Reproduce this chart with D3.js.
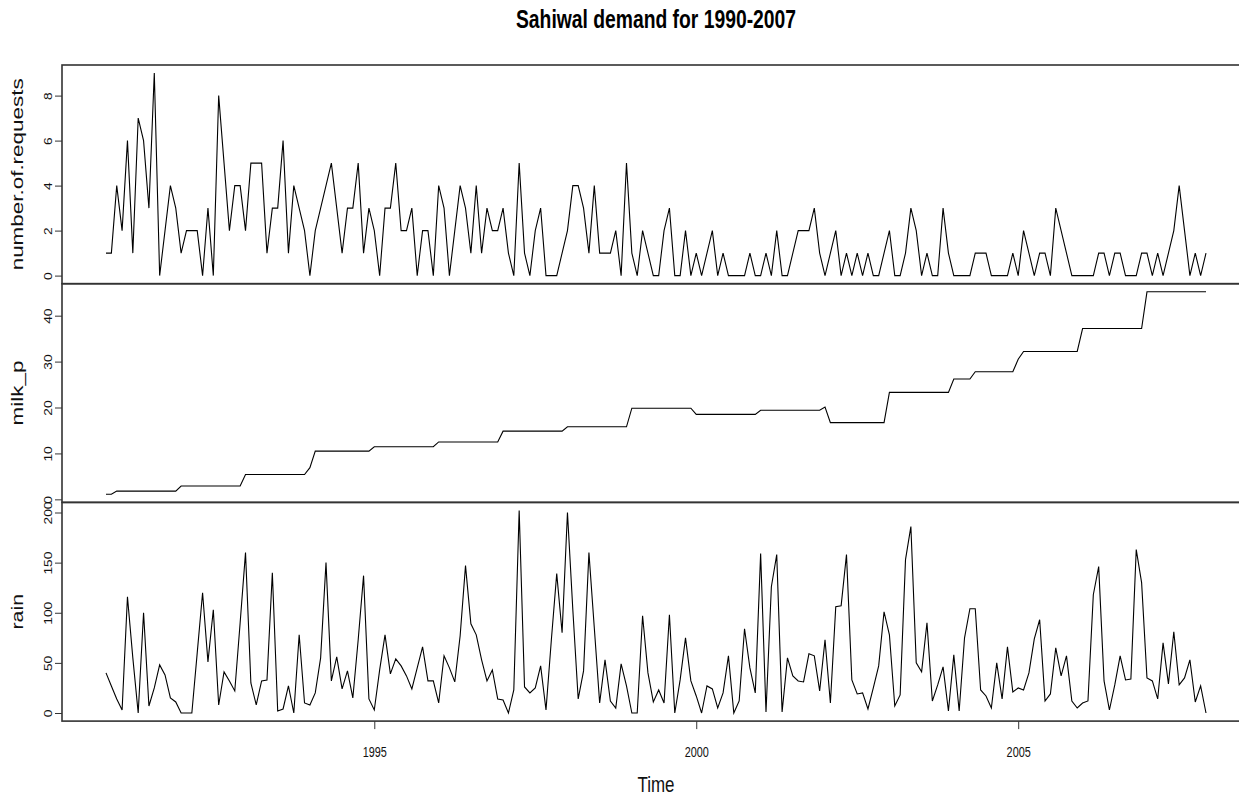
<!DOCTYPE html>
<html>
<head>
<meta charset="utf-8">
<script src="https://cdn.jsdelivr.net/npm/d3@7"></script>
<style>
  body { margin: 0; background: #fff; }
  svg { display: block; font-family: "Liberation Sans", Arial, sans-serif; }
</style>
</head>
<body>
<div id="chart"></div>
<script>
// monthly series, first month Nov 1990
const startYear = 1990 + 10 / 12;
const seriesNames = ["number.of.requests", "milk_p", "rain"];
const yearTicks = [1995, 2000, 2005];
const requestTicks = [0, 2, 4, 6, 8];
const milkTicks = [0, 10, 20, 30, 40];
const rainTicks = [0, 50, 100, 150, 200];

const requests = [
  1, 1, 4, 2, 6, 1, 7, 6, 3, 9, 0, 2, 4, 3, 1, 2, 2, 2, 0, 3,
  0, 8, 5, 2, 4, 4, 2, 5, 5, 5, 1, 3, 3, 6, 1, 4, 3, 2, 0, 2,
  3, 4, 5, 3, 1, 3, 3, 5,
  1, 3, 2, 0, 3, 3, 5, 2, 2, 3, 0, 2, 2, 0, 4, 3, 0, 2, 4, 3,
  1, 4, 1, 3, 2, 2, 3, 1, 0, 5, 1, 0, 2, 3, 0, 0, 0, 1, 2, 4,
  4, 3, 1, 4, 1, 1, 1, 2, 0, 5, 1, 0, 2, 1,
  0, 0, 2, 3, 0, 0, 2, 0, 1, 0, 1, 2, 0, 1, 0, 0, 0, 0, 1, 0,
  0, 1, 0, 2, 0, 0, 1, 2, 2, 2, 3, 1, 0, 1, 2, 0, 1, 0, 1, 0,
  1, 0, 0, 1, 2, 0, 0, 1, 3, 2, 0, 1, 0, 0, 3, 1,
  0, 0, 0, 0, 1, 1, 1, 0, 0, 0, 0, 1, 0, 2, 1, 0, 1, 1, 0, 3,
  2, 1, 0, 0, 0, 0, 0, 1, 1, 0, 1, 1, 0, 0, 0, 1, 1, 0, 1, 0,
  1, 2, 4, 2, 0, 1, 0, 1
];

const milkP = [
  1.1, 1.1,
  1.8, 1.8, 1.8, 1.8, 1.8, 1.8, 1.8, 1.8, 1.8, 1.8, 1.8, 1.8,
  2.9, 2.9, 2.9, 2.9, 2.9, 2.9, 2.9, 2.9, 2.9, 2.9, 2.9, 2.9,
  5.4, 5.4, 5.4, 5.4, 5.4, 5.4, 5.4, 5.4, 5.4, 5.4, 5.4, 5.4,
  6.9, 10.5, 10.5, 10.5, 10.5, 10.5, 10.5, 10.5, 10.5, 10.5, 10.5, 10.5,
  11.45, 11.45, 11.45, 11.45, 11.45, 11.45, 11.45, 11.45, 11.45, 11.45, 11.45, 11.45,
  12.5, 12.5, 12.5, 12.5, 12.5, 12.5, 12.5, 12.5, 12.5, 12.5, 12.5, 12.5,
  14.85, 14.85, 14.85, 14.85, 14.85, 14.85, 14.85, 14.85, 14.85, 14.85, 14.85, 14.85,
  15.8, 15.8, 15.8, 15.8, 15.8, 15.8, 15.8, 15.8, 15.8, 15.8, 15.8, 15.8,
  19.85, 19.85, 19.85, 19.85, 19.85, 19.85, 19.85, 19.85, 19.85, 19.85, 19.85, 19.85,
  18.5, 18.5, 18.5, 18.5, 18.5, 18.5, 18.5, 18.5, 18.5, 18.5, 18.5, 18.5,
  19.4, 19.4, 19.4, 19.4, 19.4, 19.4, 19.4, 19.4, 19.4, 19.4, 19.4, 19.4,
  20.1, 16.7, 16.7, 16.7, 16.7, 16.7, 16.7, 16.7, 16.7, 16.7, 16.7, 16.7,
  23.3, 23.3, 23.3, 23.3, 23.3, 23.3, 23.3, 23.3, 23.3, 23.3, 23.3, 23.3,
  26.2, 26.2, 26.2, 26.2, 27.8, 27.8, 27.8, 27.8, 27.8, 27.8, 27.8, 27.8,
  30.5, 32.2, 32.2, 32.2, 32.2, 32.2, 32.2, 32.2, 32.2, 32.2, 32.2, 32.2,
  37.2, 37.2, 37.2, 37.2, 37.2, 37.2, 37.2, 37.2, 37.2, 37.2, 37.2, 37.2,
  45.2, 45.2, 45.2, 45.2, 45.2, 45.2, 45.2, 45.2, 45.2, 45.2, 45.2, 45.2
];

const rain = [
  40, 27, 14, 3, 116, 55, 0, 100, 7, 25, 48, 38, 15, 11, 0, 0, 0, 60, 120, 51,
  103, 8, 41, 32, 22, 90, 160, 30, 8, 32, 33, 140, 2, 4, 27, 0, 78, 10, 8, 20,
  55, 150, 32, 56, 24, 42, 15, 73,
  137, 14, 3, 43, 78, 39, 54, 47, 37, 24, 45, 66, 32, 32, 10, 57, 45, 31, 77, 147,
  89, 78, 53, 32, 43, 14, 13, 0, 23, 202, 26, 20, 25, 47, 3, 73, 139, 80, 200, 103,
  14, 42, 160, 85, 10, 53, 12, 5, 49, 27, 0, 0, 97, 40, 11, 23,
  10, 98, 0, 33, 75, 32, 17, 0, 27, 24, 5, 20, 57, 0, 12, 84, 45, 20, 159, 1,
  126, 158, 1, 55, 37, 32, 31, 59, 57, 22, 73, 10, 106, 107, 158, 33, 19, 20, 4, 25,
  47, 101, 78, 7, 18, 153, 186, 50, 41, 90, 12, 28, 46, 2,
  58, 2, 75, 104, 104, 23, 17, 5, 50, 14, 66, 21, 25, 23, 40, 74, 93, 12, 19, 65,
  37, 57, 12, 5, 10, 12, 118, 146, 32, 3, 28, 57, 33, 34, 163, 130, 35, 32, 14, 70,
  29, 81, 28, 35, 53, 11, 27, 0
];

const width = 1239, height = 797;
const plotLeft = 62, plotRight = 1250;
const panelTop = 65, panelH = 218.7;
const frameColor = "#333";

// R style: extend data range 4% on each side
function rExtent(values) {
  const [a, b] = d3.extent(values);
  const pad = (b - a) * 0.04;
  return [a - pad, b + pad];
}

const times = requests.map((_, i) => startYear + i / 12);

const x = d3.scaleLinear().domain(rExtent(times)).range([plotLeft, plotRight]);

const panels = [
  { name: seriesNames[0], values: requests, ticks: requestTicks, stretch: 1.32 },
  { name: seriesNames[1], values: milkP, ticks: milkTicks, stretch: 1.32 },
  { name: seriesNames[2], values: rain, ticks: rainTicks, stretch: 1.25 },
];

const svg = d3.select("#chart").append("svg")
  .attr("width", width)
  .attr("height", height);

svg.append("text")
  .attr("x", (plotLeft + plotRight) / 2)
  .attr("y", 27.5)
  .attr("text-anchor", "middle")
  .attr("font-weight", "bold")
  .attr("font-size", 25.5)
  .attr("textLength", 280)
  .attr("lengthAdjust", "spacingAndGlyphs")
  .text("Sahiwal demand for 1990-2007");

panels.forEach((p, k) => {
  const top = panelTop + k * panelH;
  const y = d3.scaleLinear().domain(rExtent(p.values)).range([top + panelH, top]);

  const g = svg.append("g");

  g.append("rect")
    .attr("x", plotLeft)
    .attr("y", top)
    .attr("width", plotRight - plotLeft)
    .attr("height", panelH)
    .attr("fill", "none")
    .attr("stroke", frameColor)
    .attr("stroke-width", 1.6);

  const line = d3.line()
    .x((d, i) => x(times[i]))
    .y(d => y(d));

  g.append("path")
    .datum(p.values)
    .attr("d", line)
    .attr("fill", "none")
    .attr("stroke", "#000")
    .attr("stroke-width", 1.1)
    .attr("stroke-linejoin", "miter");

  const axis = g.append("g")
    .attr("transform", `translate(${plotLeft},0)`)
    .call(d3.axisLeft(y).tickValues(p.ticks).tickSize(7).tickFormat(d3.format("d")));
  axis.select(".domain").remove();
  axis.selectAll(".tick line").attr("stroke", frameColor);
  axis.selectAll(".tick text")
    .attr("x", null)
    .attr("dy", null)
    .attr("fill", "#111")
    .attr("font-size", 11.5)
    .attr("font-family", "Liberation Sans, Arial, sans-serif")
    .attr("text-anchor", "middle")
    .attr("transform", "translate(-10.5,0) rotate(-90) scale(1.2,1)");

  g.append("text")
    .attr("transform", `translate(22.5,${top + panelH / 2}) rotate(-90) scale(${p.stretch},1)`)
    .attr("text-anchor", "middle")
    .attr("font-size", 17)
    .attr("fill", "#111")
    .text(p.name);
});

const bottom = panelTop + 3 * panelH;
const xAxis = svg.append("g")
  .attr("transform", `translate(0,${bottom})`)
  .call(d3.axisBottom(x).tickValues(yearTicks).tickSize(8).tickFormat(d3.format("d")));
xAxis.select(".domain").remove();
xAxis.selectAll(".tick line").attr("stroke", frameColor);
xAxis.selectAll(".tick text")
  .attr("y", 36)
  .attr("dy", null)
  .attr("fill", "#111")
  .attr("font-size", 14.5)
  .attr("font-family", "Liberation Sans, Arial, sans-serif")
  .attr("transform", "scale(0.75,1)");

svg.append("text")
  .attr("x", (plotLeft + plotRight) / 2)
  .attr("y", 792)
  .attr("text-anchor", "middle")
  .attr("font-size", 22)
  .attr("fill", "#111")
  .attr("textLength", 37)
  .attr("lengthAdjust", "spacingAndGlyphs")
  .text("Time");
</script>
</body>
</html>
